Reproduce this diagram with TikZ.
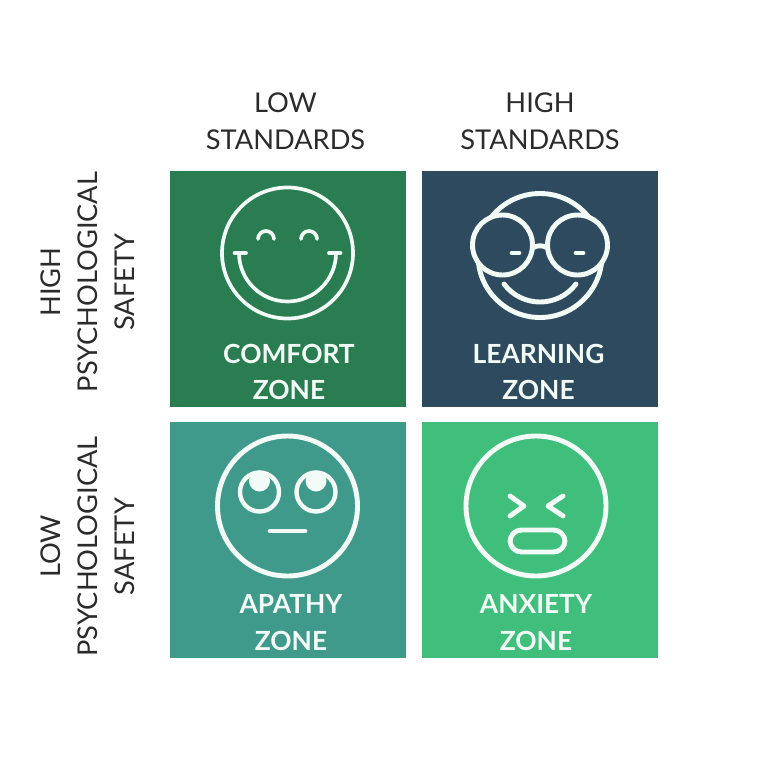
\documentclass[tikz,border=0pt]{standalone}
\usepackage{fontspec}
\setmainfont{Lato}
\tikzset{
  zonebox/.style={minimum width=4.72cm, minimum height=4.72cm, inner sep=0pt, anchor=north west},
  zonelabel/.style={text=zonetext, font=\fontsize{15}{21}\selectfont\bfseries, align=center},
  axislabel/.style={text=axistext, font=\fontsize{15.5}{21.2}\selectfont, align=center},
  faceline/.style={draw=zonetext, line width=2.1pt, line cap=round, line join=round},
  facebold/.style={draw=zonetext, line width=2.8pt, line cap=round, line join=round}
}
\definecolor{zonetext}{HTML}{F2FBF6}
\definecolor{axistext}{HTML}{2B2B2B}
\definecolor{comfortgreen}{HTML}{2A7D50}
\definecolor{learningblue}{HTML}{2D4A5E}
\definecolor{apathyteal}{HTML}{409A8B}
\definecolor{anxietygreen}{HTML}{40BF7C}
\begin{document}
\begin{tikzpicture}[x=0.02cm, y=-0.02cm]
      \useasboundingbox (0,0) rectangle (760,760);
      % axis labels
      \node[axislabel] (lowstd) at (285.5,121) {LOW\\STANDARDS};
      \node[axislabel] (highstd) at (540,121) {HIGH\\STANDARDS};
      \node[axislabel, rotate=90] (highsafe) at (87.5,282) {HIGH\\PSYCHOLOGICAL\\SAFETY};
      \node[axislabel, rotate=90] (lowsafe) at (87.5,546.5) {LOW\\PSYCHOLOGICAL\\SAFETY};
      % the four zones
      \node[zonebox, fill=comfortgreen] (comfort) at (170,171) {};
      \node[zonebox, fill=learningblue] (learning) at (422,171) {};
      \node[zonebox, fill=apathyteal] (apathy) at (170,422) {};
      \node[zonebox, fill=anxietygreen] (anxiety) at (422,422) {};
      \node[zonelabel] (comforttxt) at (289,372) {COMFORT\\ZONE};
      \node[zonelabel] (learningtxt) at (538.5,372) {LEARNING\\ZONE};
      \node[zonelabel] (apathytxt) at (291,623) {APATHY\\ZONE};
      \node[zonelabel] (anxietytxt) at (536,623) {ANXIETY\\ZONE};
      % comfort face
      \draw[faceline] (287.5,253) circle[radius=65.5];
      \foreach \ex in {258,301}
        \draw[faceline] (\ex,239) arc[start angle=180, end angle=360, radius=8];
      \draw[faceline] (239,253) arc[start angle=180, end angle=0, radius=48.5];
      \draw[faceline] (234.5,253) -- (246,253);
      \draw[faceline] (329,253) -- (340.5,253);
      % learning face
      \draw[facebold] (540,255.5) circle[radius=62];
      \draw[facebold, fill=learningblue] (502.5,245) circle[radius=30];
      \draw[facebold, fill=learningblue] (577.5,245) circle[radius=30];
      \draw[facebold] (532.5,248) .. controls (537,245) and (543,245) .. (547.5,248);
      \draw[facebold] (512,253) -- (519,253);
      \draw[facebold] (576,253) -- (583,253);
      \draw[facebold] (504,284) .. controls (522,308) and (558,308) .. (576,284);
      % apathy face
      \draw[facebold] (287.5,506) circle[radius=70];
      \foreach \ex in {259.5,316}{
        \draw[faceline, line width=2.5pt] (\ex,492) circle[radius=19.5];
        \fill[zonetext] (\ex,481) circle[radius=10.5];
      }
      \draw[facebold] (270,531) -- (305,531);
      % anxiety face
      \draw[facebold] (536,506) circle[radius=70];
      \draw[facebold] (510,496) -- (524,506) -- (510,516);
      \draw[facebold] (563,496) -- (548,506) -- (563,516);
      \draw[facebold, rounded corners=11.5*0.02cm] (510,530) rectangle (565,552);
    \end{tikzpicture}
\end{document}
